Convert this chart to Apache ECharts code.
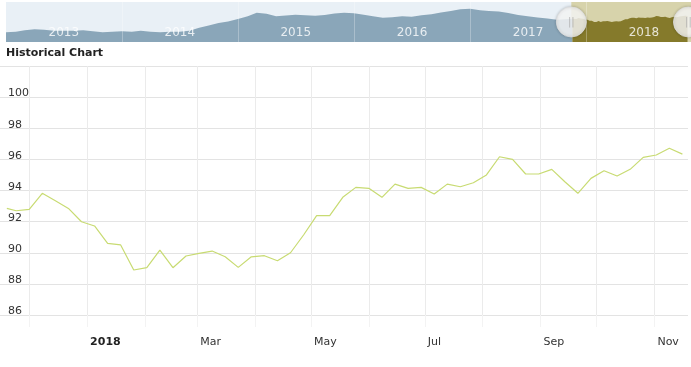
<!DOCTYPE html>
<html><head><meta charset="utf-8">
<script src="https://cdn.jsdelivr.net/npm/echarts@6/dist/echarts.min.js"></script>
<style>html,body{margin:0;padding:0;background:#fff}#c{width:691px;height:367px}</style>
</head><body><div id="c"></div>
<script>
// ---- main chart data (weekly) ----
const mainDates = ['2017-11-19','2017-11-24','2017-12-01','2017-12-08','2017-12-15','2017-12-22','2017-12-29',
'2018-01-05','2018-01-12','2018-01-19','2018-01-26','2018-02-02','2018-02-09','2018-02-16','2018-02-23',
'2018-03-02','2018-03-09','2018-03-16','2018-03-23','2018-03-30','2018-04-06','2018-04-13','2018-04-20','2018-04-27',
'2018-05-04','2018-05-11','2018-05-18','2018-05-25','2018-06-01','2018-06-08','2018-06-15','2018-06-22','2018-06-29',
'2018-07-06','2018-07-13','2018-07-20','2018-07-27','2018-08-03','2018-08-10','2018-08-17','2018-08-24','2018-08-31',
'2018-09-07','2018-09-14','2018-09-21','2018-09-28','2018-10-05','2018-10-12','2018-10-19','2018-10-26',
'2018-11-02','2018-11-09','2018-11-16'];
const mainValues = [92.85,92.70,92.79,93.82,93.34,92.85,91.99,
91.72,90.60,90.50,88.89,89.04,90.17,89.04,89.79,
89.96,90.11,89.74,89.06,89.74,89.81,89.49,90.00,91.14,
92.38,92.38,93.56,94.20,94.14,93.56,94.41,94.14,94.20,
93.77,94.41,94.24,94.50,95.00,96.17,96.00,95.06,95.06,
95.36,94.56,93.82,94.78,95.27,94.93,95.36,96.13,
96.28,96.71,96.34];

// ---- navigator history (monthly, Jan 2013 - Oct 2017) ----
const navStartYear = 2013;
const navHistory = [
 76.5,77.1,79.0,80.25,79.6,78.4,78.4,78.4,79.0,77.75,76.5,77.1,
 77.75,77.1,78.4,77.1,76.5,77.1,77.1,78.4,82.1,84.6,87.75,89.6,
 92.75,95.9,100.2,99.0,96.0,97.0,97.75,97.2,96.75,97.6,99.25,100.25,
 99.6,97.75,95.9,94.25,94.8,95.9,95.5,97.1,98.4,100.5,102.5,104.6,
 105.2,103.4,102.5,101.75,99.9,97.5,95.9,94.6,93.4,91.75
];
const navYearLabels = ['2013','2014','2015','2016','2017','2018'];
const navYearBoundaries = ['2014-01-01','2015-01-01','2016-01-01','2017-01-01','2018-01-01'];
const navMin = '2013-01-01', navMax = '2018-11-27';
const viewStart = '2017-11-15T08:00:00', viewEnd = '2018-11-19';
const yMin = 86, yMax = 102, yStep = 2;

const DAY = 86400000;
const navHistPairs = navHistory.map((v,i)=>{
  const y = navStartYear + Math.floor(i/12), m = i%12;
  return [y + '-' + String(m+1).padStart(2,'0') + '-01', v];
});
navHistPairs.push([mainDates[0], mainValues[0]]);
const mainPairs = mainDates.map((d,i)=>[d, mainValues[i]]);
const monthNames = ['Jan','Feb','Mar','Apr','May','Jun','Jul','Aug','Sep','Oct','Nov','Dec'];

const chart = echarts.init(document.getElementById('c'), null, {renderer:'canvas'});
chart.setOption({
  animation:false,
  textStyle:{fontFamily:'DejaVu Sans'},
  title:{text:'Historical Chart', left:6, top:48, padding:0,
    textStyle:{fontSize:11, fontWeight:'bold', color:'#222', fontFamily:'DejaVu Sans'}},
  grid:[
    {left:6, right:0, top:2, height:40, show:true, backgroundColor:'#e9f0f6', borderWidth:0},
    {left:0, right:3, top:66, bottom:52}
  ],
  xAxis:[
    {gridIndex:0, type:'time', min:navMin, max:navMax, show:false},
    {gridIndex:1, type:'time', min:viewStart, max:viewEnd, splitNumber:12,
      minInterval:28*DAY, maxInterval:31*DAY,
      axisLine:{show:false},
      axisTick:{show:true, length:12, lineStyle:{color:'#f3f3f3'},
        interval:function(i, v){ return new Date(v).getDate() === 1; }},
      splitLine:{show:true, showMinLine:false, showMaxLine:false, lineStyle:{color:'#ebebeb', width:1}},
      axisLabel:{align:'left', margin:22, color:'#333', fontSize:11, fontFamily:'DejaVu Sans',
        padding:[0,0,0,3], hideOverlap:false,
        formatter:function(v){
          const d = new Date(v); const m = d.getMonth();
          if (d.getDate() !== 1) return '';
          if (m === 0) return '{b|' + d.getFullYear() + '}';
          if (m % 2 === 0) return monthNames[m];
          return '';
        },
        rich:{b:{fontWeight:'bold', fontSize:11, color:'#222', fontFamily:'DejaVu Sans'}}
      }
    }
  ],
  yAxis:[
    {gridIndex:0, type:'value', min:64.6, max:113.4, show:false},
    {gridIndex:1, type:'value', min:yMin, max:yMax, interval:yStep,
      axisLine:{show:false}, axisTick:{show:false},
      splitLine:{lineStyle:{color:'#e3e3e3'}},
      axisLabel:{inside:true, margin:8, verticalAlign:'bottom', color:'#333', fontSize:11,
        fontFamily:'DejaVu Sans', padding:[0,0,-2,0],
        formatter:function(v){ return v === yMax ? '' : String(v); }}
    }
  ],
  series:[
    {type:'line', xAxisIndex:0, yAxisIndex:0, data:navHistPairs, symbol:'none', z:1,
      lineStyle:{width:0}, areaStyle:{color:'#8aa6b9', opacity:1},
      markArea:{silent:true, itemStyle:{color:'#d7d3ab'},
        data:[[{xAxis:viewStart},{xAxis:navMax}]]}},
    {type:'line', xAxisIndex:0, yAxisIndex:0, data:mainPairs, symbol:'none', z:2,
      lineStyle:{width:0}, areaStyle:{color:'#857a2b', opacity:1},
      markLine:{silent:true, symbol:'none', label:{show:false},
        lineStyle:{color:'rgba(255,255,255,0.28)', width:1, type:'solid'},
        data:navYearBoundaries.map(d=>({xAxis:d}))}},
    {type:'scatter', xAxisIndex:0, yAxisIndex:0, z:4, symbolSize:0, silent:true,
      data:navYearLabels.map(y=>[y + '-07-02', 75.3, y]),
      label:{show:true, position:'inside', formatter:p=>p.data[2], color:'#fff', fontSize:12,
        fontFamily:'DejaVu Sans'}},
    {type:'scatter', xAxisIndex:0, yAxisIndex:0, z:5, symbol:'circle', symbolSize:30, silent:true,
      data:[[viewStart, 89],[viewEnd, 89]],
      itemStyle:{color:'#ffffff', borderColor:'#dddddd', borderWidth:1,
        shadowBlur:3, shadowColor:'rgba(0,0,0,0.25)'},
      label:{show:true, position:'inside', formatter:'||', color:'#aaaaaa', fontSize:10}},
    {type:'line', xAxisIndex:1, yAxisIndex:1, data:mainPairs, symbol:'none', z:3,
      lineStyle:{color:'#c8db72', width:1.2}}
  ]
});
</script></body></html>
